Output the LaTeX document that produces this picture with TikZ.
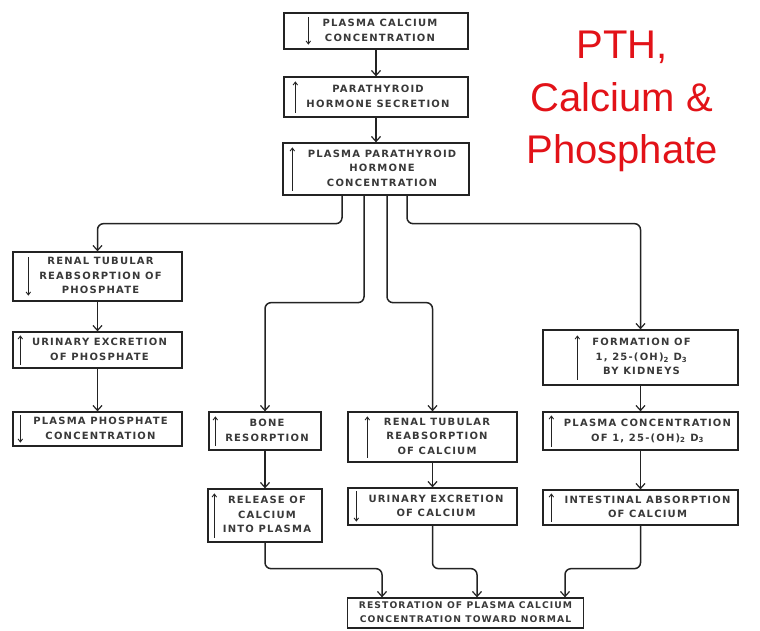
\documentclass[tikz,border=0pt]{standalone}
\usepackage{fontspec}
\setmainfont{Liberation Sans}
\newfontfamily\boxfont[LetterSpace=12]{DejaVu Sans}
\usetikzlibrary{arrows.meta}
\definecolor{ink}{RGB}{35,35,35}
\definecolor{titlered}{RGB}{226,18,24}
\newcommand\arrUp[3]{\draw[inarr] ([xshift=#2pt,yshift=#3pt]#1.south west) -- ([xshift=#2pt,yshift=-#3pt]#1.north west);}
\newcommand\arrDown[3]{\draw[inarr] ([xshift=#2pt,yshift=-#3pt]#1.north west) -- ([xshift=#2pt,yshift=#3pt]#1.south west);}
\newcommand\btxt[2]{\hspace*{#1pt}\begin{tabular}{@{}c@{}}#2\end{tabular}}
\begin{document}
\begin{tikzpicture}[x=1pt,y=-1pt,
  box/.style={draw=ink, line width=1.3pt, inner sep=0pt,
    font=\boxfont\bfseries\fontsize{10}{14.5}\selectfont, text=ink!90},
  conn/.style={draw=ink, line width=1.5pt, rounded corners=6pt,
    -{Straight Barb[length=5pt,width=9pt,line width=1.2pt]}},
  inarr/.style={draw=ink, line width=0.9pt, -{Straight Barb[length=3pt,width=4.5pt]}},
  ttl/.style={text=titlered, font=\fontsize{40}{48}\selectfont, anchor=base}]
\useasboundingbox (0,0) rectangle (760,630);

% title
\node[ttl] (ttl1) at (622,58) {PTH,};
\node[ttl] (ttl2) at (622,111) {Calcium \&};
\node[ttl] (ttl3) at (622,163) {Phosphate};

% central column
\node[box, minimum width=184pt, minimum height=36pt] (t1) at (376,31) {\btxt{8}{PLASMA CALCIUM\\CONCENTRATION}};
\node[box, minimum width=184pt, minimum height=40pt] (t2) at (376,97) {\btxt{4}{PARATHYROID\\HORMONE SECRETION}};
\node[box, minimum width=186pt, minimum height=52pt] (t3) at (376,169) {\btxt{12}{PLASMA PARATHYROID\\HORMONE\\CONCENTRATION}};

% left column
\node[box, minimum width=169pt, minimum height=49pt] (L1) at (97.5,276.5) {\btxt{6}{RENAL TUBULAR\\REABSORPTION OF\\PHOSPHATE}};
\node[box, minimum width=169pt, minimum height=36pt] (L2) at (97.5,350) {\btxt{4}{URINARY EXCRETION\\OF PHOSPHATE}};
\node[box, minimum width=169pt, minimum height=34pt] (L3) at (97.5,429) {\btxt{6}{PLASMA PHOSPHATE\\CONCENTRATION}};

% bone column
\node[box, minimum width=112pt, minimum height=38pt] (B1) at (265,431) {\btxt{4}{BONE\\RESORPTION}};
\node[box, minimum width=114pt, minimum height=53pt] (B2) at (265,515.5) {\btxt{4}{RELEASE OF\\CALCIUM\\INTO PLASMA}};

% renal calcium column
\node[box, minimum width=169pt, minimum height=50pt] (R1) at (432.5,437) {\btxt{9}{RENAL TUBULAR\\REABSORPTION\\OF CALCIUM}};
\node[box, minimum width=169pt, minimum height=37pt] (R2) at (432.5,506.5) {\btxt{7}{URINARY EXCRETION\\OF CALCIUM}};

% vitamin D column
\node[box, minimum width=195pt, minimum height=55pt] (F1) at (640.5,357.5) {\btxt{2}{FORMATION OF\\1, 25-(OH)\textsubscript{2} D\textsubscript{3}\\BY KIDNEYS}};
\node[box, minimum width=195pt, minimum height=38pt] (F2) at (640.5,431) {\btxt{14}{PLASMA CONCENTRATION\\OF 1, 25-(OH)\textsubscript{2} D\textsubscript{3}}};
\node[box, minimum width=195pt, minimum height=35pt] (F3) at (640.5,507.5) {\btxt{14}{INTESTINAL ABSORPTION\\OF CALCIUM}};

% outcome
\node[box, font=\boxfont\bfseries\fontsize{9.2}{13.5}\selectfont, minimum width=236pt, minimum height=30pt] (Rest) at (465.5,613) {\btxt{0}{RESTORATION OF PLASMA CALCIUM\\CONCENTRATION TOWARD NORMAL}};

% inner arrows
\arrDown{t1}{25}{5}
\arrUp{t2}{12}{5}
\arrUp{t3}{10}{5}
\arrDown{L1}{16}{6}
\arrUp{L2}{8}{4}
\arrDown{L3}{8}{4}
\arrUp{B1}{7}{5}
\arrUp{B2}{7}{5}
\arrUp{R1}{20}{5}
\arrDown{R2}{9}{4}
\arrUp{F1}{35}{6}
\arrUp{F2}{9}{4}
\arrUp{F3}{9}{4}

% connectors
\draw[conn] (t1.south) -- (t2.north);
\draw[conn] (t2.south) -- (t3.north);
\draw[conn] ([xshift=-34pt]t3.south) -- ++(0,28) -| (L1.north);
\draw[conn] ([xshift=-12pt]t3.south) -- ++(0,107) -| (B1.north);
\draw[conn] ([xshift=11pt]t3.south) -- ++(0,107) -| (R1.north);
\draw[conn] ([xshift=31pt]t3.south) -- ++(0,28) -| (F1.north);
\draw[conn] (L1.south) -- (L2.north);
\draw[conn] (L2.south) -- (L3.north);
\draw[conn] (B1.south) -- (B2.north);
\draw[conn] (R1.south) -- (R2.north);
\draw[conn] (F1.south) -- (F2.north);
\draw[conn] (F2.south) -- (F3.north);
\draw[conn] (B2.south) -- ++(0,26) -| ([xshift=-83.5pt]Rest.north);
\draw[conn] (R2.south) -- ++(0,43) -| ([xshift=11.5pt]Rest.north);
\draw[conn] (F3.south) -- ++(0,43) -| ([xshift=99.5pt]Rest.north);
\end{tikzpicture}
\end{document}
